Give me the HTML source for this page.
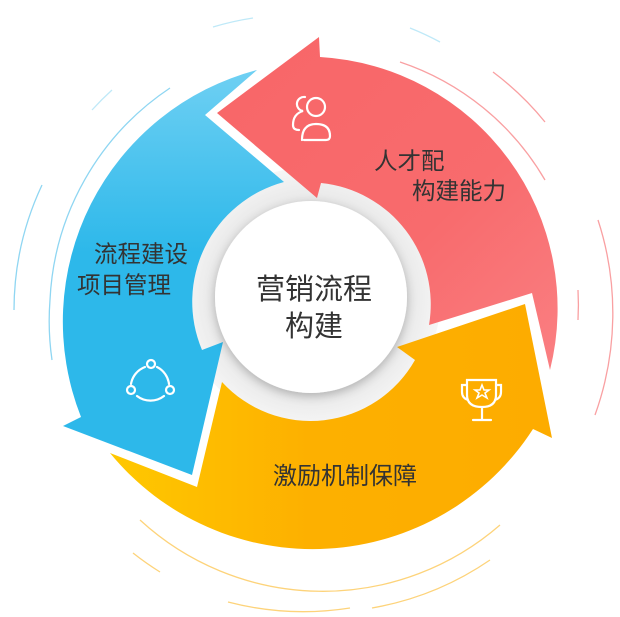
<!DOCTYPE html>
<html><head><meta charset="utf-8"><style>
html,body{margin:0;padding:0;background:#fff;}
svg{display:block}
text{font-family:"Liberation Sans","Noto Sans CJK SC",sans-serif;fill:#333;}
</style></head><body>
<svg width="620" height="617" viewBox="0 0 620 617" xmlns="http://www.w3.org/2000/svg">
<defs>
<linearGradient id="gb" x1="0" y1="0" x2="0" y2="1"><stop offset="0" stop-color="#6fd0f3"/><stop offset="0.45" stop-color="#2db8ea"/><stop offset="1" stop-color="#2db8ea"/></linearGradient>
<linearGradient id="gr" x1="0" y1="0" x2="1" y2="1"><stop offset="0" stop-color="#f86668"/><stop offset="0.6" stop-color="#f86b6d"/><stop offset="1" stop-color="#fa7f82"/></linearGradient>
<linearGradient id="go" x1="0" y1="0" x2="1" y2="0"><stop offset="0" stop-color="#ffc800"/><stop offset="0.45" stop-color="#fdb000"/><stop offset="1" stop-color="#fdac00"/></linearGradient>
<radialGradient id="gg" cx="0.5" cy="0.5" r="0.5"><stop offset="0.7" stop-color="#e6e6e6"/><stop offset="1" stop-color="#f6f6f6"/></radialGradient>
<filter id="sh" x="-20%" y="-20%" width="140%" height="140%"><feGaussianBlur in="SourceAlpha" stdDeviation="5"/><feOffset dx="0" dy="3"/><feComponentTransfer><feFuncA type="linear" slope="0.25"/></feComponentTransfer><feMerge><feMergeNode/><feMergeNode in="SourceGraphic"/></feMerge></filter>
</defs>
<g fill="none" stroke-width="1.3">
<path d="M213 27 A290 290 0 0 1 253 18" stroke="#bfe9f8"/>
<path d="M410 28 A290 290 0 0 1 440 42" stroke="#bfe9f8"/>
<path d="M92 110 A290 290 0 0 1 112 90" stroke="#bfe9f8"/>
<path d="M170 88 A270 270 0 0 0 50 300 A270 270 0 0 0 52 360" stroke="#8fd6f2"/>
<path d="M42 185 A295 295 0 0 0 14 310" stroke="#8fd6f2"/>
<path d="M400 62 A265 265 0 0 1 545 180" stroke="#f9a0a2"/>
<path d="M493 72 A290 290 0 0 1 545 122" stroke="#f9a0a2"/>
<path d="M598 220 A300 300 0 0 1 595 415" stroke="#f9a0a2"/>
<path d="M578 290 A270 270 0 0 1 578 320" stroke="#f9a0a2"/>
<path d="M140 520 A270 270 0 0 0 500 525" stroke="#fdd37a"/>
<path d="M133 553 A300 300 0 0 0 160 572" stroke="#fdd37a"/>
<path d="M228 602 A300 300 0 0 0 350 608" stroke="#fdd37a"/>
<path d="M372 608 A300 300 0 0 0 490 560" stroke="#fdd37a"/>
</g>
<circle cx="311" cy="297" r="130" fill="url(#gg)"/>
<path d="M257 70 L205 115 L284 182 A124 124 0 0 0 202 350 L223 342 L192 475 L63 426 L81 417 A260 260 0 0 1 257 70 Z" fill="url(#gb)"/>
<path d="M319 37 L217 113 L317 198 L321 183 A122 122 0 0 1 429 325 L532 293 L550 370 A252 252 0 0 0 320 57 Z" fill="url(#gr)"/>
<path d="M110 453 L197 487 L222 382 A120 120 0 0 0 415 360 L397 347 L525 304 L552 438 L533 429 A262 262 0 0 1 110 453 Z" fill="url(#go)"/>
<circle cx="311" cy="297" r="96" fill="#fff" filter="url(#sh)"/>
<text x="314" y="299" font-size="29" text-anchor="middle">营销流程</text>
<text x="314" y="336" font-size="29" text-anchor="middle">构建</text>
<text x="374" y="169" font-size="23.5">人才配</text>
<text x="412" y="199" font-size="23.5">构建能力</text>
<text x="94" y="262" font-size="23.5">流程建设</text>
<text x="77" y="293" font-size="23.5">项目管理</text>
<text x="273" y="484" font-size="24">激励机制保障</text>
<g fill="none" stroke="#fff" stroke-width="2.2" stroke-linecap="round">
<circle cx="316" cy="107" r="9"/>
<path d="M302 140 Q302 124 316 124 Q330 124 330 136 Q330 140 326 140 L304 140"/>
<path d="M305 97 A7 7 0 0 0 303 111 Q293 114 293 125 Q293 130 299 130"/>
<circle cx="151" cy="364" r="4"/><circle cx="131" cy="390" r="4"/><circle cx="170" cy="390" r="4"/>
<path d="M145 367 A22 22 0 0 0 131 384 M157 367 A22 22 0 0 1 169 384 M137 396 A22 22 0 0 0 164 396"/>
<path d="M467 380 L467 395 Q467 407 482 407 Q496 407 496 395 L496 380 Z M467 385 L462 385 L462 392 Q462 398 468 400 M496 385 L501 385 L501 392 Q501 398 495 400 M482 407 L482 420 M473 420 L491 420"/>
<path d="M482 385 L484 390 L489 390 L485 393 L487 398 L482 395 L477 398 L479 393 L475 390 L480 390 Z" stroke-width="1.6"/>
</g>
</svg>
</body></html>
